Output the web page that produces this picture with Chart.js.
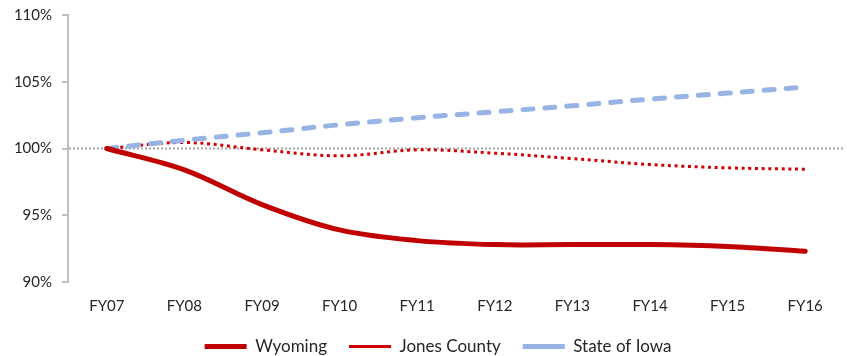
<!DOCTYPE html>
<html>
<head>
<meta charset="utf-8">
<script src="https://cdn.jsdelivr.net/npm/chart.js@4.4.1/dist/chart.umd.min.js"></script>
<style>
  html, body { margin: 0; padding: 0; background: #ffffff; }
  #wrap { width: 847px; height: 356px; position: relative; }
</style>
</head>
<body>
<div id="wrap"><canvas id="c"></canvas></div>
<script>
const categories = ['FY07','FY08','FY09','FY10','FY11','FY12','FY13','FY14','FY15','FY16'];
const wyoming    = [100, 98.4, 95.8, 93.9, 93.1, 92.8, 92.8, 92.8, 92.65, 92.3];
const jonesCounty = [100, 100.45, 99.9, 99.45, 99.9, 99.65, 99.25, 98.8, 98.55, 98.45];
const stateOfIowa = [100, 100.62, 101.18, 101.78, 102.3, 102.75, 103.2, 103.7, 104.15, 104.6];
const referenceValue = 100;
const yMin = 90, yMax = 110, yStep = 5;

const refLinePlugin = {
  id: 'refLine',
  afterLayout(chart) {
    // nudge the centred legend to the right, as in the reference
    if (chart.legend) { chart.legend.left += 10; chart.legend.right += 10; }
  },
  beforeDatasetsDraw(chart) {
    const y = chart.scales.y.getPixelForValue(referenceValue);
    const a = chart.chartArea;
    const ctx = chart.ctx;
    ctx.save();
    ctx.strokeStyle = '#A6A6A6';
    ctx.lineWidth = 2;
    ctx.setLineDash([2, 2]);
    ctx.beginPath();
    ctx.moveTo(a.left + 1, y);
    ctx.lineTo(a.right, y);
    ctx.stroke();
    ctx.restore();
  }
};

const fontFamily = 'Lato, "Open Sans", sans-serif';
const LEFT_PAD = 12;

new Chart(document.getElementById('c'), {
  type: 'line',
  data: {
    labels: categories,
    datasets: [
      {
        label: 'Wyoming',
        data: wyoming,
        borderColor: '#C00000',
        backgroundColor: '#C00000',
        borderWidth: 5,
        tension: 0.35,
        pointRadius: 0,
        pointStyle: 'line',
        borderCapStyle: 'round',
        order: 1
      },
      {
        label: 'Jones County',
        data: jonesCounty,
        borderColor: '#D00000',
        backgroundColor: '#D00000',
        borderWidth: 3,
        borderDash: [3, 3.7],
        borderCapStyle: 'butt',
        tension: 0.35,
        pointRadius: 0,
        pointStyle: 'line',
        order: 3
      },
      {
        label: 'State of Iowa',
        data: stateOfIowa,
        borderColor: '#98B4E4',
        backgroundColor: '#98B4E4',
        borderWidth: 5,
        borderDash: [10, 12],
        borderCapStyle: 'round',
        tension: 0.35,
        pointRadius: 0,
        pointStyle: 'line',
        order: 2
      }
    ]
  },
  options: {
    responsive: true,
    maintainAspectRatio: false,
    animation: false,
    layout: { padding: { top: 15, right: 3, bottom: 0, left: LEFT_PAD } },
    plugins: {
      tooltip: { enabled: false },
      legend: {
        position: 'bottom',
        maxHeight: 40,
        labels: {
          usePointStyle: true,
          pointStyleWidth: 42,
          boxHeight: 17,
          padding: 22,
          color: '#262626',
          font: { family: fontFamily, size: 17 },
          sort: (a, b) => a.datasetIndex - b.datasetIndex
        }
      }
    },
    scales: {
      x: {
        offset: true,
        afterFit(scale) { scale.height = 34; },
        border: { display: false },
        grid: { display: false, drawTicks: false },
        ticks: {
          color: '#262626',
          padding: 17,
          font: { family: fontFamily, size: 15, lineHeight: 1 },
          maxRotation: 0
        }
      },
      y: {
        min: yMin,
        max: yMax,
        afterFit(scale) { scale.width = 68 - LEFT_PAD; scale.paddingTop = 0; scale.paddingBottom = 0; },
        border: { display: true, color: '#BFBFBF', width: 2 },
        grid: { drawOnChartArea: false, drawTicks: true, tickLength: 6, color: '#BFBFBF', lineWidth: 2 },
        ticks: {
          stepSize: yStep,
          padding: 10,
          color: '#262626',
          font: { family: fontFamily, size: 15 },
          callback: v => v + '%'
        }
      }
    }
  },
  plugins: [refLinePlugin]
});
</script>
</body>
</html>
